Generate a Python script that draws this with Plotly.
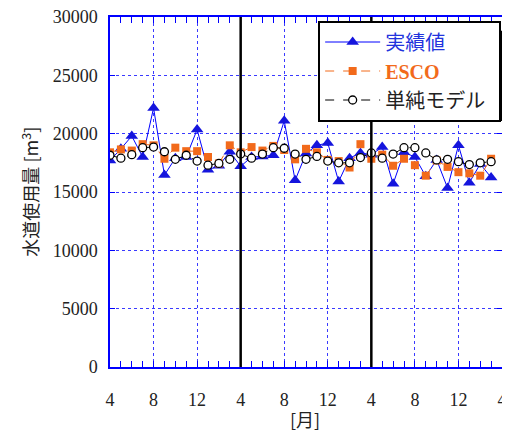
import plotly.graph_objects as go

months = list(range(36))
tick_vals = [0, 4, 8, 12, 16, 20, 24, 28, 32, 36]
tick_text = ["4", "8", "12", "4", "8", "12", "4", "8", "12", "4"]
y_ticks = [0, 5000, 10000, 15000, 20000, 25000, 30000]
y_tick_text = ["0", "5000", "10000", "15000", "20000", "25000", "30000"]

actual = [17700, 18700, 19800, 18000, 22200, 16450, 17900, 18000, 20350, 16900,
          17250, 18450, 17200, 18000, 18050, 18150, 21100, 16000, 18300, 19000,
          19200, 15900, 17900, 18350, 18200, 18850, 15700, 18400, 18000, 16350,
          17750, 15350, 19000, 15800, 17400, 16250]
esco = [18400, 18650, 18550, 19100, 19000, 17850, 18800, 18500, 18500, 18000,
        17450, 19000, 18400, 18850, 18550, 18950, 18600, 17800, 18700, 18400,
        17750, 17650, 17100, 19100, 17850, 18200, 17250, 17850, 17300, 16400,
        17700, 17150, 16700, 16600, 16400, 17850]
simple = [18150, 17900, 18200, 18800, 18850, 18450, 17800, 18150, 17650, 17300,
          17450, 17800, 18250, 17900, 18250, 18800, 18750, 18250, 17800, 18050,
          17650, 17500, 17500, 17950, 18350, 17900, 18250, 18800, 18800, 18350,
          17750, 17800, 17600, 17350, 17500, 17600]
year_breaks = [12, 24]

BLUE = "#0000ff"
ORANGE = "#f26a1b"
GRID = "#3a3aff"
SERIF = "Liberation Serif"
CJK = "Noto Sans CJK JP"

fig = go.Figure()
fig.add_trace(go.Scatter(
    x=months, y=actual, mode="lines+markers",
    name="<span style='color:#2233dd'>実績値</span>",
    line=dict(color=BLUE, width=1),
    marker=dict(symbol="triangle-up", size=11, color="#1515dd"),
))
fig.add_trace(go.Scatter(
    x=months, y=esco, mode="lines+markers",
    name="<span style='color:#f26a1b;font-family:Liberation Serif'><b>ESCO</b></span>",
    line=dict(color=ORANGE, width=1, dash="dash"),
    marker=dict(symbol="square", size=8, color=ORANGE),
))
fig.add_trace(go.Scatter(
    x=months, y=simple, mode="lines+markers",
    name="<span style='color:#222222'>単純モデル&nbsp;&nbsp;</span>",
    line=dict(color="black", width=1, dash="dash"),
    marker=dict(symbol="circle", size=8, color="white",
                line=dict(color="black", width=1.3)),
))

for xb in year_breaks:
    fig.add_shape(type="line", xref="x", yref="y", x0=xb, x1=xb, y0=0, y1=30000,
                  line=dict(color="black", width=2.5), layer="above")

# legend shadow
fig.add_shape(type="rect", xref="paper", yref="paper",
              x0=0.561, x1=1.008, y0=0.703, y1=0.961,
              fillcolor="black", line=dict(width=0), layer="above")

fig.add_annotation(text="水道使用量 [m<sup>3</sup>]", xref="paper", yref="paper",
                   x=-0.205, y=0.5, xanchor="center", yanchor="middle",
                   textangle=-90, showarrow=False,
                   font=dict(family=CJK, size=18, color="#222222"))
fig.add_annotation(text="[月]", xref="paper", yref="paper",
                   x=0.497, y=-0.148, xanchor="center", yanchor="middle",
                   showarrow=False,
                   font=dict(family=CJK, size=18, color="#222222"))

fig.update_xaxes(
    range=[0, 36], tickvals=tick_vals, ticktext=tick_text,
    showline=True, linecolor=BLUE, linewidth=1.5, mirror="ticks",
    ticks="inside", ticklen=6, tickcolor=BLUE,
    minor=dict(dtick=1, tick0=0, ticks="inside", ticklen=6, tickcolor=BLUE, showgrid=False),
    showgrid=True, gridcolor=GRID, griddash="3px,3px", gridwidth=1,
    zeroline=False, ticklabelstandoff=16, automargin=False,
    ticklabeloverflow="allow",
    tickfont=dict(family=SERIF, size=18, color="#222222"),
)
fig.update_yaxes(
    range=[0, 30000], tickvals=y_ticks, ticktext=y_tick_text,
    showline=True, linecolor=BLUE, linewidth=1.5, mirror="ticks",
    ticks="inside", ticklen=5, tickcolor=BLUE,
    showgrid=True, gridcolor=GRID, griddash="3px,3px", gridwidth=1,
    zeroline=False, ticklabelstandoff=7, automargin=False,
    ticklabeloverflow="allow",
    tickfont=dict(family=SERIF, size=18, color="#222222"),
)

# page has an 8px body margin; figure sized so the plot area lands where the reference has it
fig.update_layout(
    width=502, height=434,
    margin=dict(l=102, r=8, t=8.5, b=75, autoexpand=False),
    paper_bgcolor="white", plot_bgcolor="white",
    showlegend=True,
    legend=dict(x=0.531, y=0.99, xanchor="left", yanchor="top",
                bgcolor="white", bordercolor="black", borderwidth=2,
                font=dict(family=CJK, size=20), itemwidth=55,
                tracegroupgap=0),
)

fig.write_html("out.html")
